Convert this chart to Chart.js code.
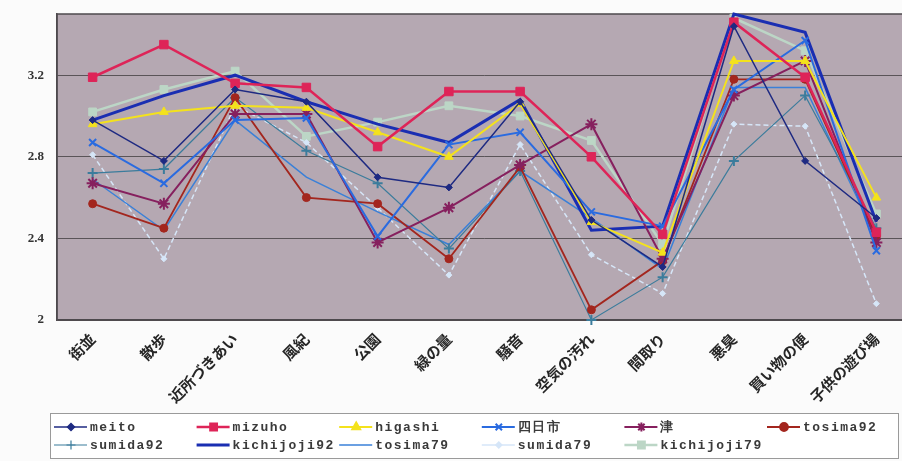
<!DOCTYPE html>
<html>
<head>
<meta charset="utf-8">
<script src="https://cdn.jsdelivr.net/npm/chart.js@4.4.1/dist/chart.umd.min.js"></script>
<style>
  html, body { margin: 0; padding: 0; background: #fbfbfb; overflow: hidden; }
  #wrap { width: 912px; height: 461px; }
</style>
</head>
<body>
<div id="wrap"><canvas id="c" width="912" height="461"></canvas></div>
<script>
// ── data ──
const categories = ['街並', '散歩', '近所づきあい', '風紀', '公園', '緑の量', '騒音', '空気の汚れ', '間取り', '悪臭', '買い物の便', '子供の遊び場'];
const yTicks = [2, 2.4, 2.8, 3.2];

const meito       = [2.98, 2.78, 3.13, 3.07, 2.70, 2.65, 3.07, 2.49, 2.26, 3.44, 2.78, 2.50];
const mizuho      = [3.19, 3.35, 3.16, 3.14, 2.85, 3.12, 3.12, 2.80, 2.42, 3.46, 3.19, 2.43];
const higashi     = [2.96, 3.02, 3.05, 3.04, 2.92, 2.80, 3.06, 2.48, 2.33, 3.27, 3.27, 2.60];
const yokkaichi   = [2.87, 2.67, 2.98, 2.99, 2.41, 2.86, 2.92, 2.53, 2.46, 3.13, 3.37, 2.34];
const tsu         = [2.67, 2.57, 3.01, 3.01, 2.38, 2.55, 2.76, 2.96, 2.30, 3.10, 3.27, 2.38];
const tosima92    = [2.57, 2.45, 3.09, 2.60, 2.57, 2.30, 2.75, 2.05, 2.29, 3.18, 3.18, 2.41];
const sumida92    = [2.72, 2.74, 3.09, 2.83, 2.67, 2.35, 2.73, 2.00, 2.21, 2.78, 3.10, 2.45];
const kichijoji92 = [2.98, 3.10, 3.20, 3.07, 2.96, 2.87, 3.08, 2.44, 2.46, 3.50, 3.41, 2.48];
const tosima79    = [2.69, 2.44, 2.98, 2.70, 2.53, 2.37, 2.73, 2.50, 2.25, 3.14, 3.14, 2.40];
const sumida79    = [2.81, 2.30, 3.05, 2.87, 2.55, 2.22, 2.86, 2.32, 2.13, 2.96, 2.95, 2.08];
const kichijoji79 = [3.02, 3.13, 3.22, 2.90, 2.97, 3.05, 3.00, 2.88, 2.37, 3.48, 3.32, 2.52];

// ── series styles ──
const series = [
  { label: 'meito',       data: meito,       color: '#1E2A82', width: 1.5, style: 'rectRot',  r: 3.5 },
  { label: 'mizuho',      data: mizuho,      color: '#DE2458', width: 2.5, style: 'rect',     r: 6 },
  { label: 'higashi',     data: higashi,     color: '#F4E21C', width: 2,   style: 'triangle', r: 5 },
  { label: '四日市',      data: yokkaichi,   color: '#2A6BE0', width: 2,   style: 'crossRot', r: 5 },
  { label: '津',          data: tsu,         color: '#86205E', width: 2,   style: 'star',     r: 6 },
  { label: 'tosima92',    data: tosima92,    color: '#A3261E', width: 1.8, style: 'circle',   r: 4 },
  { label: 'sumida92',    data: sumida92,    color: '#3B7C9C', width: 1.2, style: 'cross',    r: 5 },
  { label: 'kichijoji92', data: kichijoji92, color: '#1A2EB2', width: 3,   style: false,      r: 0 },
  { label: 'tosima79',    data: tosima79,    color: '#3A80D8', width: 1.5, style: false,      r: 0 },
  { label: 'sumida79',    data: sumida79,    color: '#D6E6F8', width: 1.5, style: 'rectRot',  r: 3, dash: [5, 3] },
  { label: 'kichijoji79', data: kichijoji79, color: '#BCD6C6', width: 2.5, style: 'rect',     r: 5.5 },
];

const plotBg = '#B5A8B2';
const frameColor = '#4E4A4E';

const plotFrame = {
  id: 'plotFrame',
  beforeDraw(chart) {
    const { ctx, chartArea: a } = chart;
    ctx.save();
    ctx.fillStyle = plotBg;
    ctx.fillRect(a.left, a.top, a.right - a.left, a.bottom - a.top);
    ctx.restore();
  },
  beforeDatasetsDraw(chart) {
    const { ctx, chartArea: a } = chart;
    ctx.save();
    ctx.strokeStyle = frameColor;
    ctx.lineWidth = 1.5;
    ctx.strokeRect(a.left, a.top, a.right - a.left, a.bottom - a.top);
    ctx.restore();
  }
};

// legend laid out as a 6-column grid in a box under the axis labels
const gridLegend = {
  id: 'gridLegend',
  afterDraw(chart) {
    const { ctx } = chart;
    const box = { x: 50.5, y: 413.5, w: 848, h: 45 };
    ctx.save();
    ctx.fillStyle = '#ffffff';
    ctx.fillRect(box.x, box.y, box.w, box.h);
    ctx.strokeStyle = '#9a9a9a';
    ctx.lineWidth = 1;
    ctx.strokeRect(box.x, box.y, box.w, box.h);
    ctx.font = "bold 13px 'Liberation Mono', monospace";
    ctx.textBaseline = 'middle';
    if ('letterSpacing' in ctx) ctx.letterSpacing = '1.5px';
    chart.data.datasets.forEach((ds, i) => {
      const col = i % 6, row = Math.floor(i / 6);
      const tx = 90 + col * 142.6;
      const y = 427 + row * 18;
      ctx.strokeStyle = ds.borderColor;
      ctx.lineWidth = Math.min(ds.borderWidth, 3);
      ctx.setLineDash([]);
      ctx.beginPath();
      ctx.moveTo(tx - 36, y);
      ctx.lineTo(tx - 3, y);
      ctx.stroke();
      if (ds.pointStyle) {
        ctx.fillStyle = ds.pointBackgroundColor;
        ctx.strokeStyle = ds.pointBorderColor;
        Chart.helpers.drawPoint(ctx, {
          pointStyle: ds.pointStyle,
          radius: Math.min(ds.pointRadius, 4.5),
          rotation: 0,
          borderWidth: ds.pointBorderWidth
        }, tx - 19, y);
      }
      ctx.fillStyle = '#3a3a3a';
      ctx.textAlign = 'left';
      ctx.fillText(ds.label, tx, y + 1);
    });
    ctx.restore();
  }
};

new Chart(document.getElementById('c'), {
  type: 'line',
  data: {
    labels: categories,
    datasets: series.map(s => ({
      label: s.label,
      data: s.data,
      borderColor: s.color,
      backgroundColor: s.color,
      borderWidth: s.width,
      borderDash: s.dash || [],
      tension: 0,
      pointStyle: s.style,
      pointRadius: s.r,
      pointHoverRadius: s.r,
      pointBackgroundColor: s.color,
      pointBorderColor: s.color,
      pointBorderWidth: (s.style === 'cross' || s.style === 'crossRot' || s.style === 'star') ? 2 : 1,
      clip: false,
    }))
  },
  options: {
    responsive: false,
    animation: false,
    devicePixelRatio: 1,
    layout: { autoPadding: false, padding: { top: 14, left: 0, right: 0, bottom: 0 } },
    plugins: {
      legend: { display: false },
      tooltip: { enabled: false }
    },
    scales: {
      x: {
        offset: true,
        grid: { drawOnChartArea: false, drawTicks: false },
        border: { display: true, color: frameColor, width: 1.5 },
        ticks: {
          autoSkip: false,
          minRotation: 45,
          maxRotation: 45,
          padding: 10,
          color: '#262626',
          font: { family: "'Noto Sans CJK JP', sans-serif", size: 15, weight: 'bold' }
        },
        afterFit(scale) {
          scale.height = 141;
          scale.paddingLeft = 0;
          scale.paddingRight = 0;
        }
      },
      y: {
        min: 2,
        max: 3.5,
        afterBuildTicks(scale) { scale.ticks = yTicks.map(v => ({ value: v })); },
        grid: { color: '#5a5458', lineWidth: 1, drawTicks: false },
        border: { display: true, color: frameColor, width: 1.5 },
        ticks: {
          padding: 13,
          color: '#333',
          font: { family: "'Liberation Serif', serif", size: 13, weight: 'bold' },
          callback: v => String(+v.toFixed(1))
        },
        afterFit(scale) {
          scale.width = 57;
          scale.paddingTop = 0;
          scale.paddingBottom = 0;
        }
      }
    }
  },
  plugins: [plotFrame, gridLegend]
});
</script>
</body>
</html>
